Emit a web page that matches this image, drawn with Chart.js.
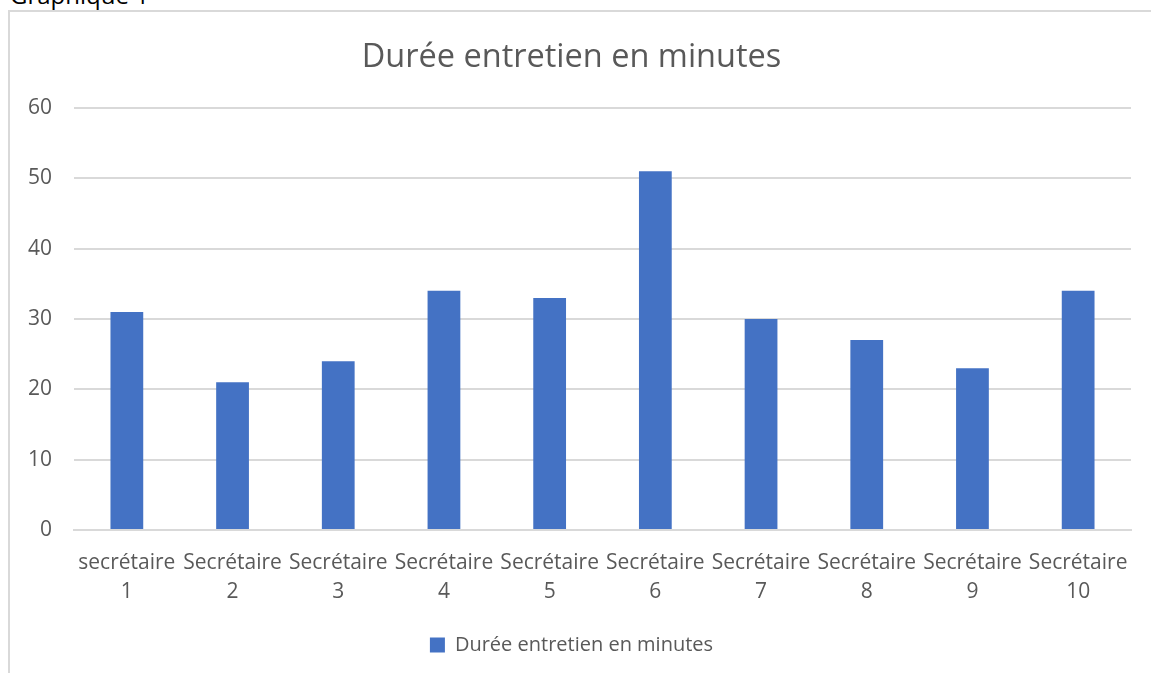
<!DOCTYPE html>
<html>
<head>
<meta charset="utf-8">
<script src="https://cdn.jsdelivr.net/npm/chart.js@4.4.0/dist/chart.umd.min.js"></script>
<style>
  html, body { margin: 0; padding: 0; background: #fff; overflow: hidden; }
  body { width: 1151px; height: 673px; position: relative; font-family: "Open Sans", sans-serif; }
  #caption { position: absolute; left: 10px; top: -22px; font-size: 24px; color: #000; }
  #box {
    position: absolute; left: 8px; top: 10px; width: 1143px; height: 663px;
    border-left: 2px solid #d9d9d9; border-top: 2px solid #d9d9d9; box-sizing: border-box;
  }
  #wrap { position: absolute; left: 2px; top: 2px; right: 0; bottom: 0; }
</style>
</head>
<body>
<div id="caption">Graphique 1</div>
<div id="box"><div id="wrap"><canvas id="chart"></canvas></div></div>
<script>
// data
const categories = [
  ['secrétaire', '1'], ['Secrétaire', '2'], ['Secrétaire', '3'], ['Secrétaire', '4'],
  ['Secrétaire', '5'], ['Secrétaire', '6'], ['Secrétaire', '7'], ['Secrétaire', '8'],
  ['Secrétaire', '9'], ['Secrétaire', '10']
];
const durations = [31, 21, 24, 34, 33, 51, 30, 27, 23, 34];
const seriesName = 'Durée entretien en minutes';
const yTicks = [0, 10, 20, 30, 40, 50, 60];

const TEXT = '#595959';
const GRID = '#d9d9d9';
const FONT = "'Open Sans', sans-serif";

new Chart(document.getElementById('chart'), {
  type: 'bar',
  data: {
    labels: categories,
    datasets: [{
      label: seriesName,
      data: durations,
      backgroundColor: '#4472c4',
      borderWidth: 0,
      barPercentage: 0.62,
      categoryPercentage: 0.5
    }]
  },
  options: {
    responsive: true,
    maintainAspectRatio: false,
    animation: false,
    layout: { padding: { left: 0, right: 20, top: 0, bottom: 8 } },
    scales: {
      x: {
        grid: { display: false, drawTicks: false },
        border: { color: GRID, width: 2 },
        ticks: {
          color: TEXT, font: { family: FONT, size: 21, lineHeight: 1.4 },
          padding: 18, maxRotation: 0, autoSkip: false
        },
        afterFit: axis => { axis.height = 95; }
      },
      y: {
        min: 0, max: 60,
        afterBuildTicks: axis => { axis.ticks = yTicks.map(v => ({ value: v })); },
        grid: { color: GRID, lineWidth: 2, drawTicks: false },
        border: { display: false },
        ticks: {
          color: TEXT, font: { family: FONT, size: 21 }, padding: 22
        },
        afterFit: axis => { axis.width = 62; }
      }
    },
    plugins: {
      title: {
        display: true,
        text: seriesName,
        color: TEXT,
        font: { family: FONT, size: 32.5, weight: 'normal' },
        padding: { top: 24, bottom: 31 }
      },
      legend: {
        position: 'bottom',
        labels: {
          color: TEXT, font: { family: FONT, size: 20 },
          boxWidth: 15, boxHeight: 15, padding: 10
        }
      },
      tooltip: { enabled: false }
    }
  }
});
</script>
</body>
</html>
